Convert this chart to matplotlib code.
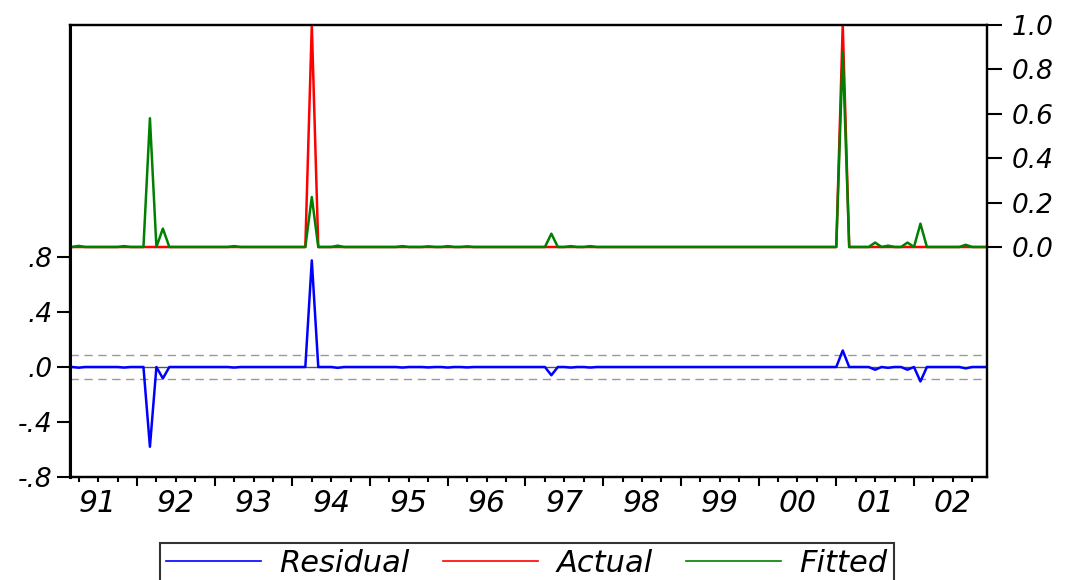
import numpy as np
import matplotlib
matplotlib.use("Agg")
import matplotlib.pyplot as plt
from matplotlib.lines import Line2D

# monthly sample 1991M3 - 2002M12 (first row has 10 months)
start_year = 1991
start_month = 3

actual = [
    0, 0, 0, 0, 0, 0, 0, 0, 0, 0,              # 1991 M3-M12
    0, 0, 0, 0, 0, 0, 0, 0, 0, 0, 0, 0,        # 1992
    0, 0, 0, 0, 0, 0, 0, 0, 0, 0, 0, 0,        # 1993
    0, 0, 0, 1, 0, 0, 0, 0, 0, 0, 0, 0,        # 1994
    0, 0, 0, 0, 0, 0, 0, 0, 0, 0, 0, 0,        # 1995
    0, 0, 0, 0, 0, 0, 0, 0, 0, 0, 0, 0,        # 1996
    0, 0, 0, 0, 0, 0, 0, 0, 0, 0, 0, 0,        # 1997
    0, 0, 0, 0, 0, 0, 0, 0, 0, 0, 0, 0,        # 1998
    0, 0, 0, 0, 0, 0, 0, 0, 0, 0, 0, 0,        # 1999
    0, 0, 0, 0, 0, 0, 0, 0, 0, 0, 0, 0,        # 2000
    0, 1, 0, 0, 0, 0, 0, 0, 0, 0, 0, 0,        # 2001
    0, 0, 0, 0, 0, 0, 0, 0, 0, 0, 0, 0,        # 2002
]

fitted = [
    0.0, 0.005, 0.0, 0.0, 0.0, 0.0, 0.0, 0.0, 0.004, 0.0,                # 1991
    0.0, 0.0, 0.58, 0.0, 0.083, 0.0, 0.0, 0.0, 0.0, 0.0, 0.0, 0.0,       # 1992
    0.0, 0.0, 0.0, 0.004, 0.0, 0.0, 0.0, 0.0, 0.0, 0.0, 0.0, 0.0,        # 1993
    0.0, 0.0, 0.0, 0.225, 0.0, 0.0, 0.0, 0.006, 0.0, 0.0, 0.0, 0.0,      # 1994
    0.0, 0.0, 0.0, 0.0, 0.0, 0.004, 0.0, 0.0, 0.0, 0.003, 0.0, 0.0,      # 1995
    0.004, 0.0, 0.0, 0.003, 0.0, 0.0, 0.0, 0.0, 0.0, 0.0, 0.0, 0.0,      # 1996
    0.0, 0.0, 0.0, 0.0, 0.06, 0.0, 0.0, 0.004, 0.0, 0.0, 0.004, 0.0,     # 1997
    0.0, 0.0, 0.0, 0.0, 0.0, 0.0, 0.0, 0.0, 0.0, 0.0, 0.0, 0.0,          # 1998
    0.0, 0.0, 0.0, 0.0, 0.0, 0.0, 0.0, 0.0, 0.0, 0.0, 0.0, 0.0,          # 1999
    0.0, 0.0, 0.0, 0.0, 0.0, 0.0, 0.0, 0.0, 0.0, 0.0, 0.0, 0.0,          # 2000
    0.0, 0.88, 0.0, 0.0, 0.0, 0.0, 0.02, 0.0, 0.006, 0.0, 0.0, 0.02,     # 2001
    0.0, 0.105, 0.0, 0.0, 0.0, 0.0, 0.0, 0.0, 0.01, 0.0, 0.0, 0.0,       # 2002
]

std_err = 0.085   # dashed band on the residual panel

year_labels = ["91", "92", "93", "94", "95", "96", "97", "98", "99", "00", "01", "02"]
left_ticks = [-0.8, -0.4, 0.0, 0.4, 0.8]
left_labels = ["-.8", "-.4", ".0", ".4", ".8"]
right_ticks = [0.0, 0.2, 0.4, 0.6, 0.8, 1.0]
right_labels = ["0.0", "0.2", "0.4", "0.6", "0.8", "1.0"]

actual = np.array(actual, dtype=float)
fitted = np.array(fitted, dtype=float)
resid = actual - fitted
k0 = start_month - 1
t = start_year + (k0 + np.arange(len(actual))) / 12.0

BLUE = "#0000ff"
RED = "#ff0000"
GREEN = "#008000"
GREY = "#999999"
FONT = dict(family="DejaVu Sans", style="italic")

fig = plt.figure(figsize=(10.76, 5.8), dpi=100)
ax = fig.add_axes([70 / 1076, 1 - 477 / 580, 917 / 1076, 452 / 580])
ax2 = ax.twinx()

# residual panel (left axis)
ax.axhline(0, color="#555555", lw=1.0, zorder=1)
ax.axhline(std_err, color=GREY, lw=1.0, ls=(0, (6, 4)), zorder=1)
ax.axhline(-std_err, color=GREY, lw=1.0, ls=(0, (6, 4)), zorder=1)
ax.plot(t, resid, color=BLUE, lw=1.8, zorder=2)
ax.set_ylim(-0.8, 2.487)
ax.set_xlim(1991.138, 2002.94)

# actual / fitted (right axis)
ax2.plot(t, actual, color=RED, lw=1.8)
ax2.plot(t, fitted, color=GREEN, lw=1.8)
ax2.set_ylim(-1.036, 1.0)

ax.set_yticks(left_ticks)
ax.set_yticklabels(left_labels, **FONT, fontsize=19)
ax2.set_yticks(right_ticks)
ax2.set_yticklabels(right_labels, **FONT, fontsize=19)

years = np.arange(1992, 2003)
quarters = [y + q for y in range(1991, 2003) for q in (0.25, 0.5, 0.75)]
ax.set_xticks(years)
ax.set_xticklabels([])
ax.set_xticks(quarters, minor=True)
ax.tick_params(axis="x", which="major", direction="out", length=6.5, width=1.5)
ax.tick_params(axis="x", which="minor", direction="out", length=3.6, width=1.5)
ax.tick_params(axis="y", direction="out", length=9.4, width=1.5, pad=3)
ax2.tick_params(axis="y", direction="out", length=10.8, width=1.5, pad=7)

for i, lab in enumerate(year_labels):
    ax.text(1991.5 + i, -0.058, lab, transform=ax.get_xaxis_transform(),
            ha="center", va="center", fontsize=21.5, **FONT)

for a in (ax, ax2):
    for s in a.spines.values():
        s.set_linewidth(1.6)
        s.set_color("black")
ax2.spines["left"].set_linewidth(2.2)

handles = [Line2D([], [], color=BLUE, lw=1.2),
           Line2D([], [], color=RED, lw=1.2),
           Line2D([], [], color=GREEN, lw=1.2)]
leg = fig.legend(handles, ["Residual", "Actual", "Fitted"], loc="upper center",
                 bbox_to_anchor=(527 / 1076, 1 - 543 / 580), ncol=3,
                 frameon=True, fancybox=False, edgecolor="black",
                 handlelength=3.1, handletextpad=0.6, columnspacing=1.1,
                 borderpad=0.2, borderaxespad=0,
                 prop=dict(family="DejaVu Sans", style="italic", size=22))
leg.get_frame().set_linewidth(1.5)

fig.savefig("out.png", dpi=100)
